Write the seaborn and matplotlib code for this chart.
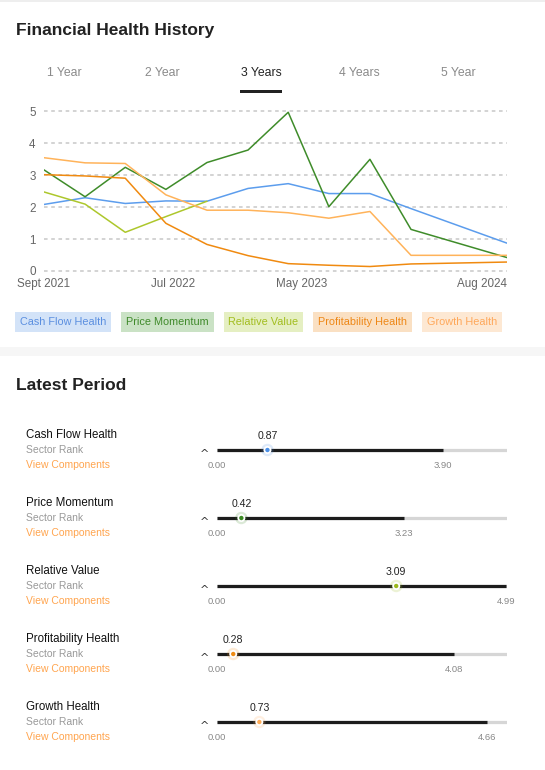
import pandas as pd
import seaborn as sns
import matplotlib.pyplot as plt
from matplotlib.patches import Rectangle
from matplotlib import transforms

# ---- data ----
dates = ['2021-09-30', '2021-12-31', '2022-03-31', '2022-06-30', '2022-09-30', '2022-12-31',
         '2023-03-31', '2023-06-30', '2023-09-30', '2023-12-31', '2024-08-02']
cash_flow = [2.08, 2.29, 2.11, 2.19, 2.18, 2.58, 2.73, 2.42, 2.42, 1.95, 0.87]
price_momentum = [3.16, 2.32, 3.24, 2.55, 3.39, 3.78, 4.96, 2.01, 3.49, 1.30, 0.42]
relative_value = [2.47, 2.09, 1.21, 1.70, 2.18]
profitability = [3.01, 2.97, 2.90, 1.49, 0.83, 0.48, 0.23, 0.18, 0.14, 0.22, 0.28]
growth = [3.54, 3.38, 3.36, 2.38, 1.90, 1.90, 1.82, 1.65, 1.86, 0.49, 0.49]

series_names = ['Cash Flow Health', 'Price Momentum', 'Relative Value', 'Profitability Health', 'Growth Health']
line_colors = ['#5c9ded', '#3f8c2a', '#adc72c', '#f08a10', '#ffb35a']
legend_text = ['#5b8fe0', '#3f8a2a', '#a2bd1e', '#ee8716', '#ffa85a']
legend_bg = ['#d3e3f8', '#cae2c5', '#e5efc2', '#fae0c3', '#fde8d3']

tab_labels = ['1 Year', '2 Year', '3 Years', '4 Years', '5 Year']
tick_dates = ['2021-09-30', '2022-07-15', '2023-05-01', '2024-08-02']
tick_labels = ['Sept 2021', 'Jul 2022', 'May 2023', 'Aug 2024']

latest = [0.87, 0.42, 3.09, 0.28, 0.73]
sector_max = [3.90, 3.23, 4.99, 4.08, 4.66]
marker_colors = ['#4a8fe7', '#3a8a22', '#9ab81a', '#ef8a12', '#ffab55']
scale_max = 5

# long-form frame for seaborn
all_vals = [cash_flow, price_momentum, relative_value, profitability, growth]
rows = []
for name, vals in zip(series_names, all_vals):
    for d, v in zip(dates, vals):
        rows.append({'date': pd.Timestamp(d), 'value': v, 'series': name})
df = pd.DataFrame(rows)

sns.set_theme(style='white')
plt.rcParams['font.family'] = ['Liberation Sans', 'DejaVu Sans']

W, H = 545, 770
fig = plt.figure(figsize=(W / 100, H / 100), dpi=100, facecolor='white')


def fx(px):
    return px / W


def fy(py):
    return 1 - py / H


# page furniture
fig.add_artist(Rectangle((0, fy(2)), 1, 2 / H, transform=fig.transFigure, color='#eeeeee', lw=0))
fig.add_artist(Rectangle((0, fy(356)), 1, 9 / H, transform=fig.transFigure, color='#f6f6f6', lw=0))

fig.text(fx(16), fy(30), 'Financial Health History', fontsize=12.5, fontweight='bold',
         color='#222222', ha='left', va='center')
for lab, cx in zip(tab_labels, [64, 162, 261, 359, 458]):
    fig.text(fx(cx), fy(72.5), lab, fontsize=8.8, ha='center', va='center',
             color='#222222' if lab == '3 Years' else '#8a8a8a')
fig.add_artist(Rectangle((fx(240), fy(93)), 42 / W, 2.5 / H, transform=fig.transFigure,
                         color='#222222', lw=0))

# ---- line chart ----
ppu = 32
y_lo, y_hi = -0.15, 5.35
ax = fig.add_axes([fx(44), fy(271 - y_lo * ppu), 463 / W, (y_hi - y_lo) * ppu / H])
sns.lineplot(data=df, x='date', y='value', hue='series', hue_order=series_names,
             palette=line_colors, legend=False, linewidth=1.1, ax=ax)
ax.set_xlim(pd.Timestamp(dates[0]), pd.Timestamp(dates[-1]))
ax.set_ylim(y_lo, y_hi)
ax.set_yticks(range(6))
ax.yaxis.grid(True, color='#d0d0d0', linestyle=(0, (2, 2)), linewidth=1.3)
ax.xaxis.grid(False)
ax.set_axisbelow(True)
for s in ax.spines.values():
    s.set_visible(False)
ax.set_facecolor('none')
ax.set_xlabel('')
ax.set_ylabel('')
ax.set_xticks([pd.Timestamp(d) for d in tick_dates])
ax.set_xticklabels(tick_labels)
ax.tick_params(axis='both', length=0, labelsize=8.4, labelcolor='#666666')
ax.tick_params(axis='x', pad=1.5)
ax.tick_params(axis='y', pad=6)
ax.get_xticklabels()[-1].set_ha('right')

# legend chips
renderer = fig.canvas.get_renderer()
pad = 0.45
fs_leg = 7.8
pad_px = pad * fs_leg * 100 / 72
x = 15
for name, fg, bg in zip(series_names, legend_text, legend_bg):
    t = fig.text(fx(x + pad_px), fy(322), name, fontsize=fs_leg, color=fg, ha='left', va='center',
                 bbox=dict(boxstyle=f'square,pad={pad}', fc=bg, ec='none'))
    w = t.get_window_extent(renderer).width
    x = x + w + 2 * pad_px + 10

# ---- latest period ----
fig.text(fx(16), fy(385), 'Latest Period', fontsize=12.5, fontweight='bold',
         color='#222222', ha='left', va='center')

ax2 = fig.add_axes([fx(217), fy(756), 290 / W, 340 / H])
ax2.set_xlim(0, scale_max)
ax2.set_ylim(4.5, -0.5)
ax2.axis('off')
idx = list(range(len(series_names)))
ax2.hlines(idx, 0, scale_max, color='#d6d6d6', lw=2.3, zorder=1)
ax2.hlines(idx, 0, sector_max, color='#1c1c1c', lw=2.3, zorder=2)
ax2.scatter(latest, idx, s=80, c=marker_colors, alpha=0.18, lw=0, zorder=3)
ax2.scatter(latest, idx, s=20, c=marker_colors, edgecolors='white', linewidths=1.3, zorder=4)

trans = transforms.blended_transform_factory(fig.transFigure, ax2.transData)
off = 15 / 68
for i, name in enumerate(series_names):
    ax2.text(fx(26), i - off, name, transform=trans, fontsize=8.3, color='#111111',
             ha='left', va='center')
    ax2.text(fx(26), i, 'Sector Rank', transform=trans, fontsize=7.5, color='#999999',
             ha='left', va='center')
    ax2.text(fx(26), i + off, 'View Components', transform=trans, fontsize=7.5, color='#ffa54f',
             ha='left', va='center')
    ax2.text(fx(204.5), i + 6.5 / 68, '^', transform=trans, fontsize=8, color='#333333',
             ha='center', va='baseline', family='DejaVu Sans')
    ax2.text(latest[i], i - 14 / 68, f'{latest[i]:.2f}', fontsize=7.6, color='#222222',
             ha='center', va='center')
    ax2.text(0, i + off, '0.00', fontsize=6.8, color='#888888', ha='center', va='center')
    ax2.text(sector_max[i], i + off, f'{sector_max[i]:.2f}', fontsize=6.8, color='#888888',
             ha='center', va='center')

fig.savefig('out.png', dpi=100, facecolor='white')
plt.close(fig)
